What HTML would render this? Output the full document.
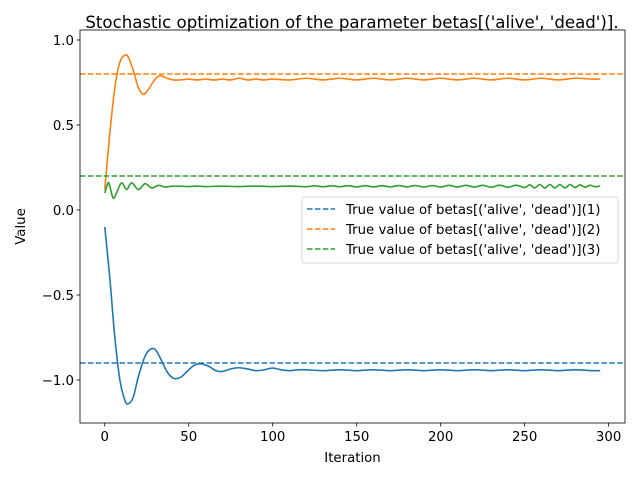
<!DOCTYPE html>
<html><head><meta charset="utf-8"><style>
body{margin:0;background:#fff;}
svg{display:block;font-family:"DejaVu Sans","Liberation Sans",sans-serif;}
</style></head><body>
<svg id="chart" width="640" height="480" xmlns="http://www.w3.org/2000/svg"></svg>
<script>
const blueIters=[0,3,6,9,12,14,17,20,24,27,30,33,37,41,45,49,53,57,62,66,70,75,80,85,90,95,100,105,110,115,120,130,140,150,160,170,180,190,200,210,220,230,240,250,260,270,280,290,295];
const blueVals=[-0.1,-0.4,-0.75,-1.0,-1.12,-1.14,-1.1,-0.98,-0.86,-0.82,-0.82,-0.87,-0.95,-0.99,-0.985,-0.95,-0.915,-0.905,-0.92,-0.945,-0.95,-0.935,-0.928,-0.935,-0.945,-0.94,-0.93,-0.94,-0.945,-0.94,-0.94,-0.945,-0.94,-0.945,-0.94,-0.945,-0.94,-0.945,-0.94,-0.945,-0.94,-0.945,-0.94,-0.945,-0.94,-0.945,-0.94,-0.945,-0.945];
const orangeIters=[0,3,6,9,12,14,17,20,23,26,30,33,37,41,45,50,55,60,65,70,75,80,85,90,95,100,110,120,130,140,150,160,170,180,190,200,210,220,230,240,250,260,270,280,290,295];
const orangeVals=[0.12,0.45,0.72,0.87,0.91,0.9,0.82,0.72,0.68,0.71,0.77,0.79,0.775,0.765,0.765,0.77,0.765,0.77,0.765,0.77,0.765,0.775,0.765,0.77,0.765,0.77,0.765,0.775,0.765,0.775,0.765,0.775,0.765,0.775,0.765,0.775,0.765,0.775,0.765,0.775,0.765,0.775,0.765,0.775,0.77,0.77];
const greenIters=[0,2,3,5,7,10,13,16,20,24,28,32,36,40,45,50,55,60,70,80,90,100,110,120,125,130,135,140,145,150,155,160,165,170,175,180,185,190,195,200,205,210,215,220,225,230,235,240,245,250,253,256,259,262,265,268,271,274,277,280,283,286,289,292,295];
const greenVals=[0.1,0.16,0.14,0.07,0.1,0.16,0.12,0.16,0.12,0.155,0.13,0.145,0.135,0.14,0.14,0.138,0.141,0.138,0.14,0.138,0.141,0.138,0.141,0.137,0.142,0.137,0.142,0.137,0.143,0.136,0.143,0.136,0.143,0.136,0.144,0.136,0.144,0.135,0.144,0.135,0.145,0.135,0.145,0.135,0.145,0.134,0.146,0.134,0.146,0.132,0.148,0.13,0.15,0.13,0.15,0.13,0.15,0.13,0.15,0.132,0.148,0.134,0.146,0.136,0.142];
const trueVals=[-0.9,0.8,0.2];
const xTicks=[0,50,100,150,200,250,300];
const yTicks=[1.0,0.5,0.0,-0.5,-1.0];
const yTickLabels=["1.0","0.5","0.0","\u22120.5","\u22121.0"];
const legendLabels=["True value of betas[('alive', 'dead')](1)","True value of betas[('alive', 'dead')](2)","True value of betas[('alive', 'dead')](3)"];
const colors=["#1f77b4","#ff7f0e","#2ca02c"];

const L=80,R=625,T=30,B=423;
const X=v=>L+(v+14.75)*(R-L)/324.5;
const Y=v=>40+(1-v)*170;
const svg=document.getElementById('chart');
const NS='http://www.w3.org/2000/svg';
function mk(tag,attrs,parent){const e=document.createElementNS(NS,tag);for(const k in attrs)e.setAttribute(k,attrs[k]);(parent||svg).appendChild(e);return e;}
function smooth(xs,ys){
  const p=xs.map((x,i)=>[X(x),Y(ys[i])]);
  let d='M'+p[0][0].toFixed(2)+','+p[0][1].toFixed(2);
  for(let i=0;i<p.length-1;i++){
    const p0=p[Math.max(0,i-1)],p1=p[i],p2=p[i+1],p3=p[Math.min(p.length-1,i+2)];
    const c1=[p1[0]+(p2[0]-p0[0])/6,p1[1]+(p2[1]-p0[1])/6];
    const c2=[p2[0]-(p3[0]-p1[0])/6,p2[1]-(p3[1]-p1[1])/6];
    d+=` C${c1[0].toFixed(2)},${c1[1].toFixed(2)} ${c2[0].toFixed(2)},${c2[1].toFixed(2)} ${p2[0].toFixed(2)},${p2[1].toFixed(2)}`;
  }
  return d;
}
const title=mk('text',{x:352,y:28,'text-anchor':'middle','font-size':'16.6',fill:'#000'});
title.textContent="Stochastic optimization of the parameter betas[('alive', 'dead')].";



const series=[[blueIters,blueVals],[orangeIters,orangeVals],[greenIters,greenVals]];
const names=['series-1-line','series-2-line','series-3-line'];
series.forEach((s,i)=>{
  const p=mk('path',{d:smooth(s[0],s[1]),fill:'none',stroke:colors[i],'stroke-width':1.6});
  
  
});
trueVals.forEach((v,i)=>{
  const l=mk('line',{x1:L,x2:R,y1:Y(v),y2:Y(v),stroke:colors[i],'stroke-width':1.6,'stroke-dasharray':'5.5,2.4'});
  
  
});
const fr=mk('rect',{x:L,y:T,width:R-L,height:B-T,fill:'none',stroke:'#000','stroke-width':0.8});


xTicks.forEach(t=>{
  mk('line',{x1:X(t),x2:X(t),y1:B,y2:B+3.5,stroke:'#000','stroke-width':0.8});
  const tx=mk('text',{x:X(t),y:B+18,'text-anchor':'middle','font-size':'13.3',fill:'#000'});
  tx.textContent=t;
  
  
});
yTicks.forEach((t,i)=>{
  mk('line',{x1:L-3.5,x2:L,y1:Y(t),y2:Y(t),stroke:'#000','stroke-width':0.8});
  const tx=mk('text',{x:L-6,y:Y(t)+4.8,'text-anchor':'end','font-size':'13.3',fill:'#000'});
  tx.textContent=yTickLabels[i];
  
  
});
const xl=mk('text',{x:(L+R)/2,y:462,'text-anchor':'middle','font-size':'13.3',fill:'#000'});
xl.textContent='Iteration';


const yl=mk('text',{x:25,y:(T+B)/2,'text-anchor':'middle','font-size':'13.3',fill:'#000',transform:`rotate(-90 25 ${(T+B)/2})`});
yl.textContent='Value';


const lg=mk('g',{});


mk('rect',{x:302,y:197,width:316,height:66,rx:2,fill:'#fff','fill-opacity':0.8,stroke:'#ccc','stroke-width':0.8},lg);
legendLabels.forEach((lab,i)=>{
  const y=209+i*20;
  const g=mk('g',{},lg);
  
  
  mk('line',{x1:307,x2:335,y1:y,y2:y,stroke:colors[i],'stroke-width':1.6,'stroke-dasharray':'5.5,2.4'},g);
  const t=mk('text',{x:346,y:y+4.8,'font-size':'13.3',fill:'#000'},g);
  t.textContent=lab;
});
</script>
</body></html>
